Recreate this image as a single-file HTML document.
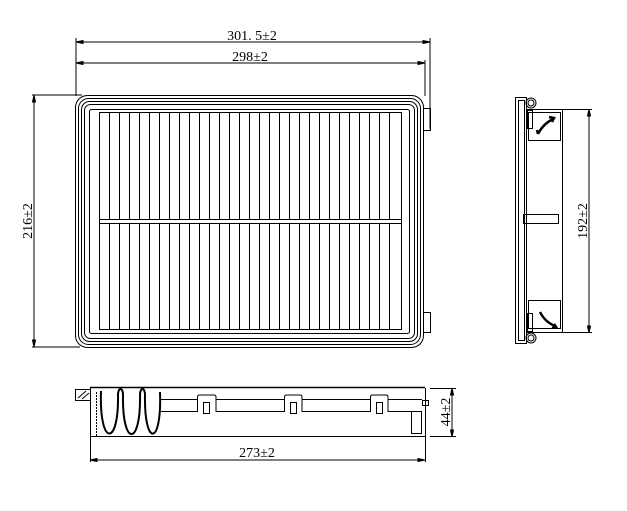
<!DOCTYPE html>
<html><head><style>html,body{margin:0;padding:0;background:#fff}svg{display:block}</style></head><body>
<svg width="627" height="511" viewBox="0 0 627 511" xmlns="http://www.w3.org/2000/svg" font-family="Liberation Serif, serif" fill="none" stroke="#000" stroke-width="1">
<line x1="76" y1="38" x2="76" y2="96"/>
<line x1="430" y1="38" x2="430" y2="129"/>
<line x1="425" y1="60" x2="425" y2="96"/>
<line x1="76" y1="42" x2="430" y2="42"/>
<line x1="76" y1="63" x2="425" y2="63"/>
<path d="M76 42 l7 -1.5 v3z M430 42 l-7 -1.5 v3z M76 63 l7 -1.5 v3z M425 63 l-7 -1.5 v3z" fill="#000"/>
<text x="252" y="40" font-size="14" fill="#000" stroke="none" text-anchor="middle">301. 5±2</text>
<text x="250" y="61" font-size="14" fill="#000" stroke="none" text-anchor="middle">298±2</text>
<line x1="32" y1="95" x2="82" y2="95"/>
<line x1="32" y1="347" x2="80" y2="347"/>
<line x1="34" y1="95" x2="34" y2="347"/>
<path d="M34 95 l-1.5 7 h3z M34 347 l-1.5 -7 h3z" fill="#000"/>
<text transform="translate(32,221) rotate(-90)" font-size="14" fill="#000" stroke="none" text-anchor="middle">216±2</text>
<rect x="75.5" y="95.5" width="348" height="252" rx="12"/>
<rect x="78.5" y="98.5" width="342" height="246" rx="10"/>
<rect x="81.5" y="101.5" width="336" height="240" rx="8"/>
<rect x="84.5" y="104.5" width="330" height="234" rx="6"/>
<rect x="89.5" y="109.5" width="320" height="224" rx="2"/>
<rect x="423.5" y="108.5" width="7" height="22"/>
<rect x="423.5" y="312.5" width="7" height="20"/>
<rect x="99.5" y="112.5" width="302" height="217"/>
<path d="M109.5 113v217M119.5 113v217M129.5 113v217M139.5 113v217M149.5 113v217M159.5 113v217M169.5 113v217M179.5 113v217M189.5 113v217M199.5 113v217M209.5 113v217M219.5 113v217M229.5 113v217M239.5 113v217M249.5 113v217M259.5 113v217M269.5 113v217M279.5 113v217M289.5 113v217M299.5 113v217M309.5 113v217M319.5 113v217M329.5 113v217M339.5 113v217M349.5 113v217M359.5 113v217M369.5 113v217M379.5 113v217M389.5 113v217"/>
<rect x="99.5" y="219.5" width="302" height="4" fill="#fff"/>
<rect x="515.5" y="97.5" width="11" height="246"/>
<rect x="518.5" y="100.5" width="6" height="240"/>
<path d="M526.5 109.5 H562.5 V332.5 H526.5"/>
<circle cx="531" cy="103" r="5"/><circle cx="531" cy="103" r="3"/>
<circle cx="531" cy="338" r="5"/><circle cx="531" cy="338" r="3"/>
<rect x="527.5" y="110.5" width="5" height="18"/>
<rect x="527.5" y="313.5" width="5" height="18"/>
<rect x="528.5" y="112.5" width="32" height="28"/>
<rect x="528.5" y="300.5" width="32" height="28"/>
<path d="M538 134 q5 -10 15 -15 M549 117 l5 1 -2 4 M538 134 l-1 -4 M540 312 q5 10 15 14 M552 328 l4 -1 -2 -3" stroke-width="2.5"/>
<rect x="523.5" y="214.5" width="35" height="9"/>
<line x1="563" y1="109.5" x2="592" y2="109.5"/>
<line x1="563" y1="332.5" x2="592" y2="332.5"/>
<line x1="589" y1="109" x2="589" y2="333"/>
<path d="M589 109 l-1.5 7 h3z M589 333 l-1.5 -7 h3z" fill="#000"/>
<text transform="translate(587,221) rotate(-90)" font-size="14" fill="#000" stroke="none" text-anchor="middle">192±2</text>
<line x1="90" y1="387.5" x2="425" y2="387.5" stroke-width="1.5"/>
<line x1="90" y1="436.5" x2="425" y2="436.5"/>
<line x1="90.5" y1="388" x2="90.5" y2="462"/>
<line x1="425.5" y1="388" x2="425.5" y2="462"/>
<rect x="75.5" y="389.5" width="15" height="11"/>
<path d="M78 398 l8 -7 M82 399 l7 -6"/>
<line x1="96.5" y1="392" x2="96.5" y2="436" stroke-dasharray="2 1"/>
<path d="M101 391 C99 447 119 447 118 395 C118 387 123 387 123 395 C122 447 141 447 140 395 C140 387 145 387 145 395 C144 447 162 447 160 392" stroke-width="2"/>
<line x1="161" y1="399.5" x2="422" y2="399.5"/>
<line x1="161" y1="411.5" x2="422" y2="411.5"/>
<rect x="422.5" y="400.5" width="6" height="5"/>
<rect x="411.5" y="411.5" width="10" height="22"/>
<g fill="#fff">
<path d="M197.5 412 V397 q0 -2 2 -2 H214 q2 0 2 2 V412"/><rect x="203.5" y="402.5" width="6" height="11"/>
<path d="M284.5 412 V397 q0 -2 2 -2 H300 q2 0 2 2 V412"/><rect x="290.5" y="402.5" width="6" height="11"/>
<path d="M370.5 412 V397 q0 -2 2 -2 H386 q2 0 2 2 V412"/><rect x="376.5" y="402.5" width="6" height="11"/>
</g>
<line x1="90" y1="460" x2="425" y2="460"/>
<path d="M90 460 l7 -1.5 v3z M425 460 l-7 -1.5 v3z" fill="#000"/>
<text x="257" y="457" font-size="14" fill="#000" stroke="none" text-anchor="middle">273±2</text>
<line x1="430" y1="388.5" x2="456" y2="388.5"/>
<line x1="430" y1="436.5" x2="456" y2="436.5"/>
<line x1="452" y1="388" x2="452" y2="437"/>
<path d="M452 388 l-1.5 7 h3z M452 437 l-1.5 -7 h3z" fill="#000"/>
<text transform="translate(450,412) rotate(-90)" font-size="14" fill="#000" stroke="none" text-anchor="middle">44±2</text>
</svg>
</body></html>
